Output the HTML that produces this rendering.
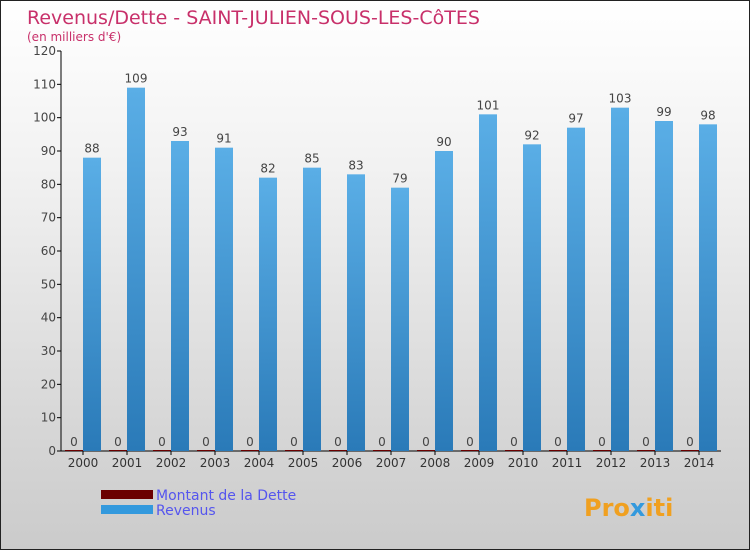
<!DOCTYPE html>
<html><head><meta charset="utf-8"><style>
body{margin:0}
#c{width:750px;height:550px;position:relative;overflow:hidden;background:linear-gradient(#ffffff,#f2f2f2 30%,#d8d8d8 75%,#cbcbcb);border:1px solid #222;box-sizing:border-box;font-family:"DejaVu Sans","Liberation Sans",sans-serif}
</style></head><body>
<div id="c">
<svg width="750" height="550" id="svg">
<defs><linearGradient id="bg" x1="0" y1="0" x2="0" y2="1"><stop offset="0" stop-color="#5aaee6"/><stop offset="1" stop-color="#2a7ab8"/></linearGradient></defs>
<text x="26" y="23" font-size="19" fill="#c8306a">Revenus/Dette - SAINT-JULIEN-SOUS-LES-CôTES</text>
<text x="26" y="40" font-size="12" fill="#c8306a">(en milliers d'€)</text>
<g id="axes"></g><g id="bars"></g>
<rect x="100" y="489" width="52" height="9" fill="#6b0000"/>
<text x="155" y="499" font-size="14" fill="#5555ee">Montant de la Dette</text>
<rect x="100" y="504" width="52" height="9" fill="#3399dd"/>
<text x="155" y="514" font-size="14" fill="#5555ee">Revenus</text>
<text x="583" y="515" font-size="24" font-weight="bold" fill="#f0a020">Pro<tspan fill="#3399dd">x</tspan>iti</text>
</svg></div>
<script>
const years=["2000","2001","2002","2003","2004","2005","2006","2007","2008","2009","2010","2011","2012","2013","2014"];
const revenus=[88,109,93,91,82,85,83,79,90,101,92,97,103,99,98];
const dette=[0,0,0,0,0,0,0,0,0,0,0,0,0,0,0];
const yTicks=[0,10,20,30,40,50,60,70,80,90,100,110,120];
const NS="http://www.w3.org/2000/svg";
const y0=450,pxu=400/120,x0=82,step=44,bw=18;
const Y=v=>y0-v*pxu, X=i=>x0+i*step;
function mk(t,a,p){const e=document.createElementNS(NS,t);for(const k in a)e.setAttribute(k,a[k]);p.appendChild(e);return e;}
const ax=document.getElementById('axes'),bs=document.getElementById('bars');
let l=mk('line',{x1:60,y1:50,x2:60,y2:450,stroke:'#000'},ax);


l=mk('line',{x1:60,y1:450,x2:720,y2:450,stroke:'#000'},ax);


yTicks.forEach(v=>{
 const t=mk('line',{x1:56,y1:Y(v),x2:60,y2:Y(v),stroke:'#000'},ax);
 
 
 const tx=mk('text',{x:55,y:Y(v)+4,'font-size':12,'text-anchor':'end',fill:'#444'},ax);tx.textContent=v;
 
 
});
years.forEach((yr,i)=>{
 const cx=X(i);
 const t=mk('line',{x1:cx,y1:450,x2:cx,y2:454,stroke:'#000'},ax);
 
 
 const tx=mk('text',{x:cx,y:466,'font-size':12,'text-anchor':'middle',fill:'#333'},ax);tx.textContent=yr;
 
 
 const d=mk('rect',{x:cx-bw,y:Y(dette[i])-1,width:bw,height:dette[i]*pxu+1,fill:'#6b0000'},bs);
 
 
 const dl=mk('text',{x:cx-bw/2,y:Y(dette[i])-5,'font-size':12,'text-anchor':'middle',fill:'#444'},bs);dl.textContent=dette[i];
 
 
 const r=mk('rect',{x:cx,y:Y(revenus[i]),width:bw,height:revenus[i]*pxu,fill:'url(#bg)'},bs);
 
 
 const rl=mk('text',{x:cx+bw/2,y:Y(revenus[i])-5,'font-size':12,'text-anchor':'middle',fill:'#444'},bs);rl.textContent=revenus[i];
 
 
});
</script>
</body></html>
